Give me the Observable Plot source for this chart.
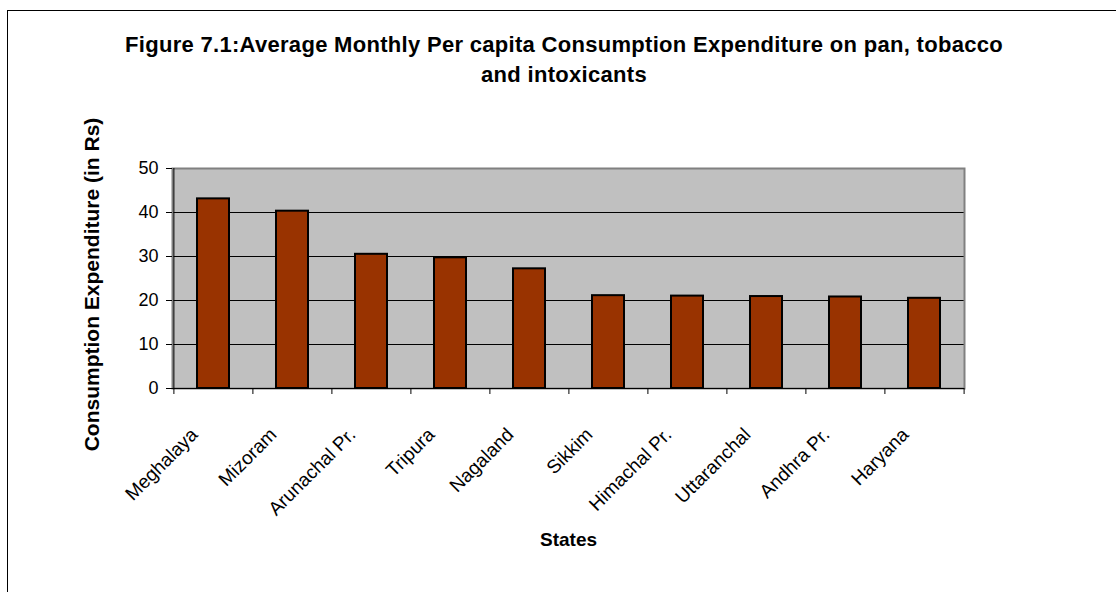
<!DOCTYPE html>
<html><head><meta charset="utf-8">
<script src="https://cdn.jsdelivr.net/npm/d3@7"></script>
<script src="https://cdn.jsdelivr.net/npm/@observablehq/plot@0.6"></script>
<style>
html,body{margin:0;padding:0;background:#fff;}
#wrap{position:relative;width:1116px;height:592px;overflow:hidden;font-family:"Liberation Sans",Arial,sans-serif;}
#border{position:absolute;left:7px;top:10px;width:2000px;height:2000px;border-left:1.5px solid #000;border-top:1.5px solid #000;}
#title{position:absolute;left:0;width:1128px;top:30px;text-align:center;font-weight:bold;font-size:22px;letter-spacing:0.3px;line-height:30px;color:#000;}
#chart{position:absolute;left:0;top:0;}
</style></head><body>
<div id="wrap"><div id="border"></div><div id="title">Figure 7.1:Average Monthly Per capita Consumption Expenditure on pan, tobacco<br>and intoxicants</div><div id="chart"></div></div>
<script>
const states = ["Meghalaya","Mizoram","Arunachal Pr.","Tripura","Nagaland","Sikkim","Himachal Pr.","Uttaranchal","Andhra Pr.","Haryana"];
const values = [43.1, 40.3, 30.5, 29.7, 27.2, 21.1, 21.0, 20.9, 20.8, 20.5];
const yTicks = [0,10,20,30,40,50];
const gridValues = [10,20,30,40];
const yLabel = "Consumption Expenditure (in Rs)";
const xLabel = "States";
const data = states.map((s,i)=>({state:s, value: values[i]}));
const W=1116,H=592, mL=172, mR=152, mT=168, mB=204;
const step = (W-mL-mR)/states.length;
const chart = Plot.plot({
 width:W,height:H,marginLeft:mL,marginRight:mR,marginTop:mT,marginBottom:mB,
 style:{fontFamily:"Liberation Sans, Arial, sans-serif", fontSize:"18px", color:"#000", background:"transparent"},
 x:{domain:states, paddingInner:0.6, paddingOuter:0.3, axis:null},
 y:{domain:[0,50], axis:null},
 marks:[
  Plot.frame({fill:"#c0c0c0"}),
  Plot.ruleY(gridValues,{stroke:"#000",strokeWidth:1}),
  Plot.frame({stroke:"#808080",strokeWidth:2}),
  Plot.barY(data,{x:"state",y:"value",fill:"#993300",stroke:"#000",strokeWidth:2}),
  Plot.ruleY([0],{stroke:"#000"}),
  Plot.ruleX([states[0]],{x:d=>d,dx:-step/2,y1:0,y2:50,stroke:"#000"}),
  Plot.axisY({ticks:yTicks,tickSize:6,tickPadding:8,fontSize:18,label:null}),
  Plot.ruleX(states,{x:d=>d,dx:-step/2,y1:0,y2:0,insetBottom:-6}),
  Plot.ruleX([states[states.length-1]],{x:d=>d,dx:step/2,y1:0,y2:0,insetBottom:-6}),
  Plot.text(states,{x:d=>d,y:0,dx:-19,dy:43,rotate:-45,textAnchor:"end",fontSize:19}),
  Plot.text([yLabel],{frameAnchor:"left",textAnchor:"middle",dx:-80,dy:6,rotate:-90,fontWeight:"bold",fontSize:21}),
  Plot.text([xLabel],{frameAnchor:"bottom",textAnchor:"middle",dy:157,fontWeight:"bold",fontSize:19})
 ]
});
document.getElementById("chart").appendChild(chart);
</script>
</body></html>
